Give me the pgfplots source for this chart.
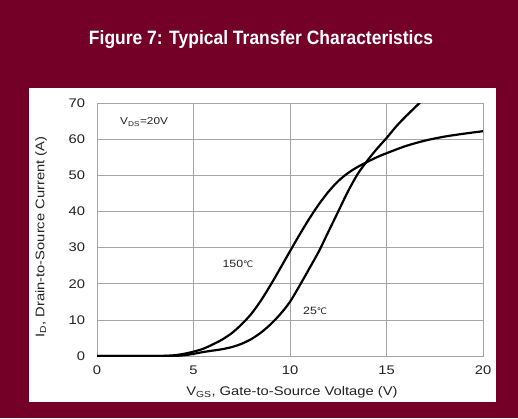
\documentclass[border=0pt]{standalone}
\usepackage{pgfplots}
\pgfplotsset{compat=1.18}
\usepackage{fontspec}
\setmainfont{Liberation Sans}
\newfontfamily\wide[FakeStretch=1.18]{Liberation Sans}
\newfontfamily\dejavu{DejaVu Sans}
\definecolor{maroon}{RGB}{116,0,40}
\definecolor{gridgray}{RGB}{165,165,165}
\definecolor{txt}{RGB}{35,35,35}
\begin{document}
\begin{tikzpicture}[x=1pt,y=1pt]
\fill[maroon] (0,0) rectangle (518,418);
\fill[white] (29,16) rectangle (496,330);
\node[white, anchor=base, inner sep=0pt] at (261,373) {\resizebox{344pt}{14pt}{\bfseries Figure 7: Typical Transfer Characteristics}};
\begin{axis}[
  at={(97pt,62pt)}, anchor=south west, scale only axis,
  width=386pt, height=253pt,
  xmin=0, xmax=20, ymin=0, ymax=70,
  xtick={0,5,10,15,20}, ytick={0,10,20,30,40,50,60,70},
  grid=major, major grid style={gridgray, line width=0.7pt},
  axis line style={gridgray, line width=0.8pt},
  major tick length=0pt,
  ticklabel style={font=\wide\fontsize{12.5}{14}\selectfont, text=txt},
  /pgf/number format/assume math mode=true,
  xticklabel style={yshift=-6pt},
  yticklabel style={xshift=-8.5pt},
  label style={font=\wide\fontsize{12.5}{14}\selectfont, text=txt},
  xlabel={V\textsubscript{GS}, Gate-to-Source Voltage (V)},
  ylabel={I\textsubscript{D}, Drain-to-Source Current (A)},
  xlabel style={at={(axis description cs:0.505,-0.142)}, anchor=center},
  ylabel style={at={(axis description cs:-0.145,0.47)}, anchor=center},
  clip=true,
]
\addplot[black, line width=2.2pt, smooth] coordinates {
(0,0) (3,0) (4,0.05) (4.5,0.2) (5,0.6) (5.5,1.1) (6,1.5) (6.5,1.9) (7,2.5) (7.5,3.4)
(8,4.7) (8.5,6.5) (9,8.8) (9.5,11.6) (10,15) (10.5,19.5) (11,24.2) (11.5,29)
(12,34.5) (12.5,40) (13,45.5) (13.5,50.3) (14,54) (14.5,57.3) (15,60.3) (15.5,63.5)
(16,66.3) (16.5,68.9) (16.9,71)
};
\addplot[black, line width=2.2pt, smooth] coordinates {
(0,0) (3,0) (3.5,0.05) (4,0.2) (4.5,0.6) (5,1.2) (5.5,2.0) (6,3.2) (6.5,4.6) (7,6.4)
(7.5,8.8) (8,11.7) (8.5,15.4) (9,19.7) (9.5,24.3) (10,29.0) (10.5,33.6) (11,38.0)
(11.5,42.0) (12,45.5) (12.5,48.4) (13,50.6) (13.5,52.3) (14,53.7) (14.5,55) (15,56.1)
(16,58.1) (17,59.6) (18,60.7) (19,61.5) (20,62.2)
};
\node[font=\wide\fontsize{10}{12}\selectfont, text=txt] at (axis cs:2.44,64.7) {V\textsubscript{DS}=20V};
\node[font=\wide\fontsize{10.5}{12}\selectfont, text=txt] at (axis cs:7.3,25.5) {150{\dejavu\fontsize{9}{10}\selectfont ℃}};
\node[font=\wide\fontsize{10.5}{12}\selectfont, text=txt] at (axis cs:11.3,12.6) {25{\dejavu\fontsize{9}{10}\selectfont ℃}};
\end{axis}
\end{tikzpicture}
\end{document}
